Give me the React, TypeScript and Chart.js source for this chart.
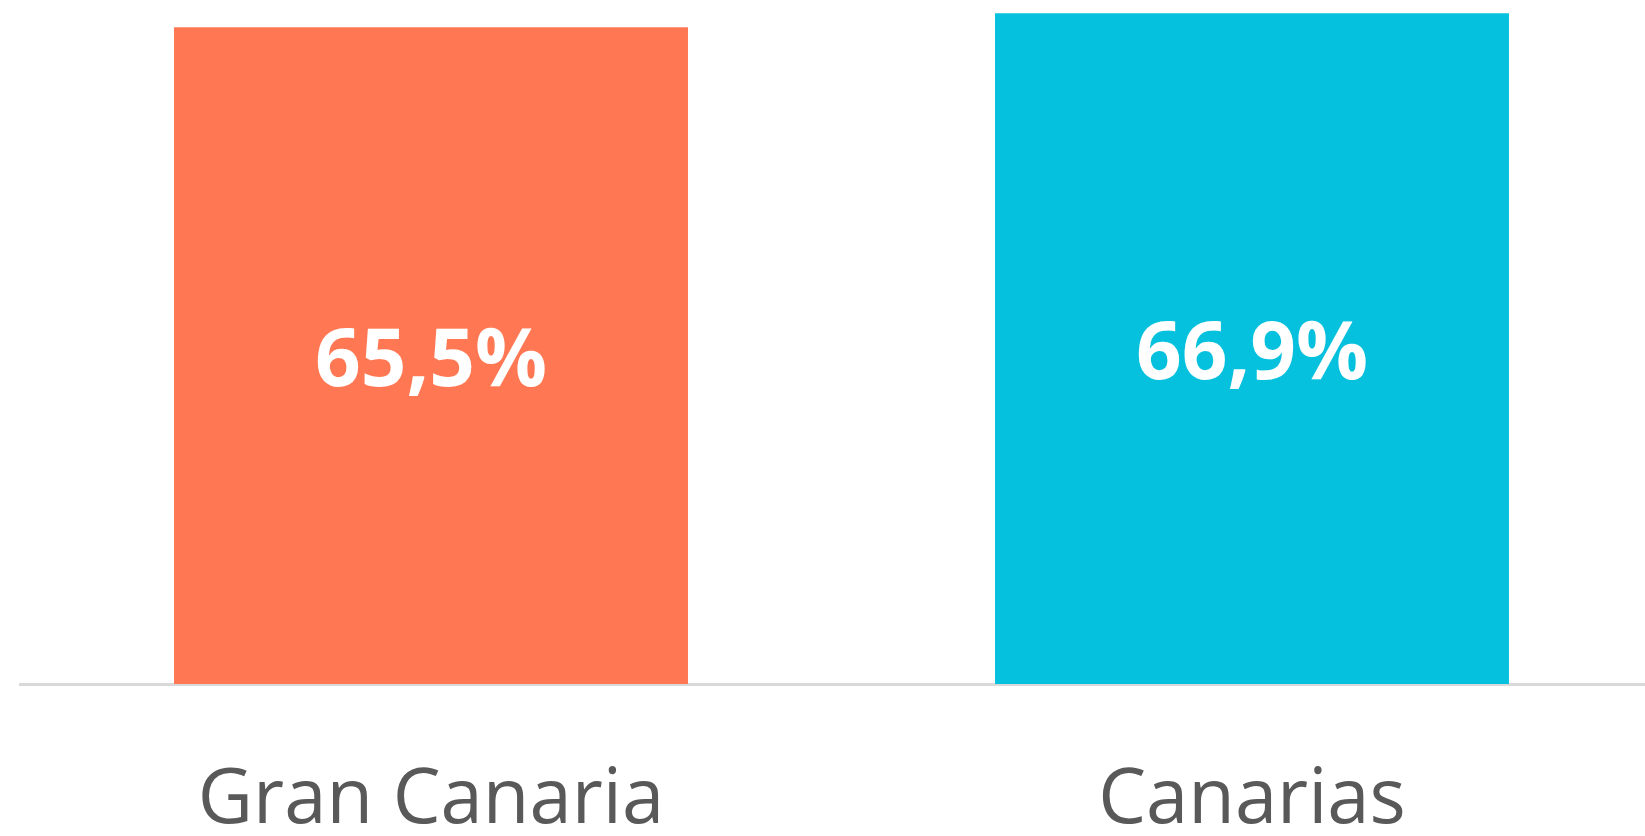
import React, { useEffect, useRef } from "react";
import { Chart, registerables } from "chart.js";

Chart.register(...registerables);

const categories = ["Gran Canaria", "Canarias"];
const values = [65.5, 66.9];
const barColors = ["#FF7853", "#06C1DE"];

const valueLabelPlugin = {
  id: "valueLabels",
  afterDatasetsDraw(chart: any) {
    const ctx = chart.ctx;
    const meta = chart.getDatasetMeta(0);
    const size = 80;
    ctx.save();
    ctx.font = `bold ${size}px "Open Sans", sans-serif`;
    ctx.fillStyle = "#ffffff";
    ctx.textAlign = "center";
    ctx.textBaseline = "alphabetic";
    meta.data.forEach((bar: any, i: number) => {
      const v = values[i];
      const txt = v.toFixed(1).replace(".", ",") + "%";
      const mid = (bar.y + bar.base) / 2;
      ctx.fillText(txt, bar.x, mid + size * 0.357 + 2);
    });
    ctx.restore();
  },
};

export default function App() {
  const ref = useRef<HTMLCanvasElement | null>(null);
  useEffect(() => {
    if (!ref.current) return;
    const chart = new Chart(ref.current, {
      type: "bar",
      data: {
        labels: categories,
        datasets: [
          {
            data: values,
            backgroundColor: barColors,
            barPercentage: 0.626,
            categoryPercentage: 1,
          },
        ],
      },
      options: {
        responsive: false,
        animation: false,
        layout: { padding: { left: 20.5, right: 17.5, top: 2.2, bottom: 0 } },
        plugins: { legend: { display: false }, tooltip: { enabled: false } },
        scales: {
          x: {
            grid: { display: false, drawTicks: false },
            border: { display: true, color: "#d9d9d9", width: 3 },
            ticks: {
              color: "#595959",
              padding: 79.5,
              maxRotation: 0,
              font: { family: '"Open Sans", sans-serif', size: 76, lineHeight: 1 },
            },
            afterFit: (scale: any) => {
              scale.height = 152;
            },
          },
          y: { display: false, min: 0, max: 68 },
        },
      },
      plugins: [valueLabelPlugin],
    });
    return () => chart.destroy();
  }, []);
  return (
    <div
      style={{
        position: "absolute",
        left: 0,
        top: 0,
        width: 1645,
        height: 836,
        overflow: "hidden",
        background: "#ffffff",
      }}
    >
      <canvas ref={ref} width={1680} height={836} style={{ width: 1680, height: 836, display: "block" }} />
    </div>
  );
}
